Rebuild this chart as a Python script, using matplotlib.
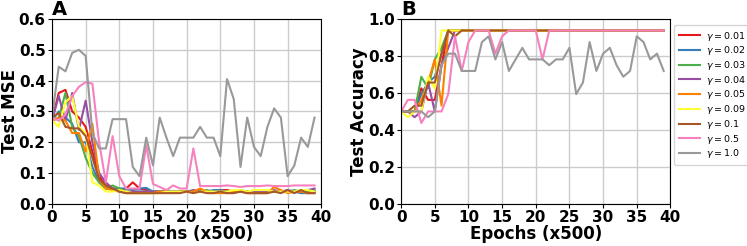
import matplotlib
matplotlib.use("Agg")
import matplotlib.pyplot as plt
import numpy as np

epochs = np.arange(40)

gammas = ["0.01", "0.02", "0.03", "0.04", "0.05", "0.09", "0.1", "0.5", "1.0"]
colors = ["#e41a1c", "#377eb8", "#4daf4a", "#984ea3", "#ff7f00",
          "#ffff33", "#a65628", "#f781bf", "#999999"]

# Test MSE per gamma
mse_001 = [0.27, 0.36, 0.37, 0.30, 0.28, 0.25, 0.17, 0.09, 0.06, 0.05, 0.045, 0.05, 0.07, 0.05, 0.045,
           0.04, 0.04, 0.04, 0.04, 0.04, 0.04, 0.04, 0.045, 0.04, 0.04, 0.045, 0.045, 0.04, 0.04, 0.04,
           0.04, 0.04, 0.04, 0.04, 0.04, 0.04, 0.04, 0.04, 0.04, 0.04]
mse_002 = [0.27, 0.30, 0.28, 0.26, 0.20, 0.20, 0.12, 0.07, 0.05, 0.05, 0.05, 0.05, 0.045, 0.05, 0.052,
           0.04, 0.04, 0.04, 0.04, 0.04, 0.04, 0.04, 0.04, 0.04, 0.045, 0.045, 0.04, 0.04, 0.04, 0.04,
           0.04, 0.04, 0.04, 0.04, 0.04, 0.04, 0.04, 0.035, 0.035, 0.04]
mse_003 = [0.27, 0.28, 0.36, 0.25, 0.22, 0.15, 0.10, 0.07, 0.05, 0.06, 0.05, 0.04, 0.04, 0.04, 0.04,
           0.04, 0.04, 0.045, 0.04, 0.04, 0.04, 0.04, 0.04, 0.045, 0.04, 0.04, 0.04, 0.04, 0.045, 0.04,
           0.04, 0.04, 0.04, 0.04, 0.04, 0.04, 0.045, 0.04, 0.04, 0.045]
mse_004 = [0.27, 0.35, 0.27, 0.36, 0.24, 0.335, 0.20, 0.10, 0.07, 0.05, 0.04, 0.04, 0.04, 0.04, 0.04,
           0.04, 0.04, 0.04, 0.04, 0.04, 0.04, 0.045, 0.04, 0.04, 0.04, 0.04, 0.04, 0.04, 0.04, 0.04,
           0.04, 0.04, 0.04, 0.045, 0.04, 0.045, 0.04, 0.04, 0.045, 0.05]
mse_005 = [0.27, 0.28, 0.27, 0.23, 0.23, 0.17, 0.26, 0.08, 0.05, 0.045, 0.04, 0.035, 0.035, 0.035, 0.035,
           0.035, 0.04, 0.04, 0.035, 0.04, 0.04, 0.04, 0.05, 0.04, 0.035, 0.035, 0.035, 0.04, 0.04, 0.035,
           0.035, 0.035, 0.035, 0.055, 0.045, 0.035, 0.04, 0.04, 0.035, 0.035]
mse_009 = [0.27, 0.25, 0.33, 0.35, 0.25, 0.23, 0.07, 0.06, 0.04, 0.04, 0.045, 0.04, 0.035, 0.035, 0.035,
           0.035, 0.035, 0.04, 0.04, 0.04, 0.04, 0.035, 0.04, 0.04, 0.04, 0.04, 0.04, 0.045, 0.045, 0.04,
           0.045, 0.045, 0.045, 0.04, 0.04, 0.04, 0.04, 0.045, 0.045, 0.04]
mse_01 = [0.28, 0.295, 0.25, 0.245, 0.245, 0.22, 0.15, 0.08, 0.06, 0.05, 0.04, 0.035, 0.035, 0.035, 0.035,
          0.035, 0.035, 0.035, 0.035, 0.035, 0.04, 0.035, 0.04, 0.035, 0.035, 0.04, 0.035, 0.035, 0.04, 0.035,
          0.035, 0.035, 0.035, 0.04, 0.035, 0.045, 0.035, 0.045, 0.035, 0.035]
mse_05 = [0.28, 0.27, 0.29, 0.35, 0.38, 0.395, 0.39, 0.20, 0.07, 0.22, 0.09, 0.05, 0.05, 0.05, 0.19,
          0.065, 0.055, 0.045, 0.06, 0.05, 0.05, 0.18, 0.058, 0.058, 0.058, 0.058, 0.06, 0.058, 0.055, 0.058,
          0.058, 0.058, 0.06, 0.058, 0.058, 0.058, 0.06, 0.06, 0.06, 0.06]
mse_10 = [0.28, 0.445, 0.43, 0.49, 0.50, 0.48, 0.23, 0.18, 0.18, 0.275, 0.275, 0.275, 0.12, 0.09, 0.215,
          0.125, 0.28, 0.215, 0.155, 0.215, 0.215, 0.215, 0.25, 0.215, 0.215, 0.155, 0.405, 0.34, 0.12, 0.28,
          0.185, 0.155, 0.25, 0.31, 0.28, 0.09, 0.125, 0.215, 0.185, 0.28]

# Test accuracy per gamma
acc_001 = [0.5, 0.5, 0.5, 0.625, 0.5625, 0.5625, 0.75] + [0.9375] * 33
acc_002 = [0.5, 0.5, 0.5, 0.59375, 0.65625, 0.6875, 0.8125] + [0.9375] * 33
acc_003 = [0.5, 0.5, 0.5, 0.6875, 0.625, 0.78125, 0.84375] + [0.9375] * 33
acc_004 = [0.5, 0.5, 0.46875, 0.5, 0.65625, 0.5, 0.75, 0.84375] + [0.9375] * 32
acc_005 = [0.5, 0.5, 0.5, 0.5625, 0.65625, 0.78125, 0.53125] + [0.9375] * 33
acc_009 = [0.5, 0.46875, 0.5, 0.5, 0.6875, 0.625] + [0.9375] * 34
acc_01 = [0.5, 0.5, 0.53125, 0.53125, 0.65625, 0.65625, 0.8125, 0.9375, 0.90625] + [0.9375] * 31
acc_05 = [0.5, 0.5625, 0.5625, 0.4375, 0.5, 0.5, 0.5, 0.59375, 0.90625, 0.71875, 0.875, 0.9375, 0.9375,
          0.9375, 0.8125, 0.90625, 0.9375, 0.9375, 0.9375, 0.9375, 0.9375, 0.78125] + [0.9375] * 18
acc_10 = [0.5, 0.5, 0.5, 0.5, 0.46875, 0.5, 0.75, 0.8125, 0.8125, 0.71875, 0.71875, 0.71875, 0.875, 0.90625,
          0.78125, 0.875, 0.71875, 0.78125, 0.84375, 0.78125, 0.78125, 0.78125, 0.75, 0.78125, 0.78125, 0.84375,
          0.59375, 0.65625, 0.875, 0.71875, 0.8125, 0.84375, 0.75, 0.6875, 0.71875, 0.90625, 0.875, 0.78125,
          0.8125, 0.71875]

mse_all = [mse_001, mse_002, mse_003, mse_004, mse_005, mse_009, mse_01, mse_05, mse_10]
acc_all = [acc_001, acc_002, acc_003, acc_004, acc_005, acc_009, acc_01, acc_05, acc_10]

fig = plt.figure(figsize=(7.47, 2.46), dpi=100)
ax1 = fig.add_axes([0.0696, 0.171, 0.3605, 0.752])
ax2 = fig.add_axes([0.537, 0.171, 0.3605, 0.752])

for g, c, m, a in zip(gammas, colors, mse_all, acc_all):
    ax1.plot(epochs, m, color=c, lw=1.5)
    ax2.plot(epochs, a, color=c, lw=1.5, label=r"$\gamma = %s$" % g)

for ax, ylab, ylim, yt, letter in [(ax1, "Test MSE", (0, 0.6), np.arange(0, 0.61, 0.1), "A"),
                                   (ax2, "Test Accuracy", (0, 1.0), np.arange(0, 1.01, 0.2), "B")]:
    ax.set_xlim(0, 40)
    ax.set_ylim(*ylim)
    ax.set_xticks(np.arange(0, 41, 5))
    ax.set_yticks(yt)
    ax.set_yticklabels(["%.1f" % v for v in yt])
    ax.grid(True, color="#cccccc", lw=1.0)
    ax.set_axisbelow(True)
    ax.tick_params(labelsize=11, length=3, pad=1.5)
    for lab in ax.get_xticklabels() + ax.get_yticklabels():
        lab.set_fontweight("bold")
    ax.set_xlabel("Epochs (x500)", fontsize=12, fontweight="bold", labelpad=0)
    ax.set_ylabel(ylab, fontsize=12, fontweight="bold", labelpad=0)
    ax.text(0.0, 1.0, letter, transform=ax.transAxes, fontsize=14, fontweight="bold",
            ha="left", va="bottom")

ax2.legend(loc="upper left", bbox_to_anchor=(1.015, 0.965), fontsize=6.8,
           handlelength=2.3, handletextpad=0.6, labelspacing=0.18, borderaxespad=0.0,
           borderpad=0.45)

fig.savefig("out.png", dpi=100)
